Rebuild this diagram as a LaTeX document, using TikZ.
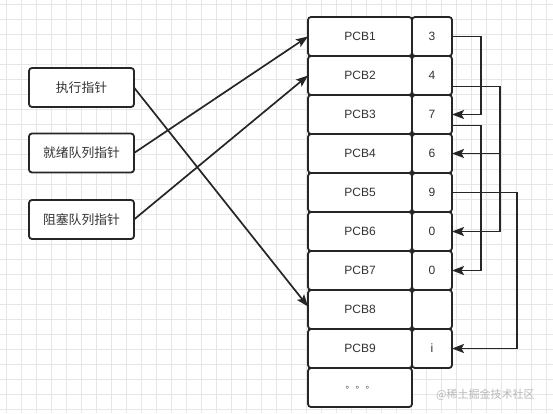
\documentclass[tikz,border=0pt]{standalone}
\usepackage{fontspec}
\setmainfont{Liberation Sans}
\newfontfamily\cjk{Noto Sans CJK SC}
\usetikzlibrary{arrows.meta,calc}
\definecolor{ink}{HTML}{262626}
\definecolor{txt}{HTML}{333333}
\definecolor{gridc}{HTML}{E6E6E6}
\definecolor{wm}{HTML}{B8B8B8}
\tikzset{
  gridline/.style={draw=gridc, line width=0.8pt},
  cell/.style={draw=ink, line width=1.8pt, rounded corners=3pt, fill=white,
    inner sep=0pt, outer sep=0pt, minimum height=39pt, text=txt,
    font=\fontsize{12}{14}\selectfont},
  pcb/.style={cell, minimum width=104pt},
  val/.style={cell, minimum width=40pt},
  ptr/.style={cell, minimum width=105pt, font=\cjk\fontsize{12.8}{14}\selectfont},
  conn/.style={draw=ink, line width=1.7pt, -{Stealth[length=12pt,width=9pt,inset=2.5pt]}},
}
\begin{document}
\begin{tikzpicture}[x=1pt,y=-1pt]
\useasboundingbox (0,0) rectangle (553,413);
\fill[white] (0,0) rectangle (553,413);
\foreach \x in {6,21,...,553} \draw[gridline] (\x,0) -- (\x,413);
\foreach \y in {4,19,...,413} \draw[gridline] (0,\y) -- (553,\y);

% left pointer boxes
\node[ptr] (run)   at (81.5,87.5)  {执行指针};
\node[ptr] (ready) at (81.5,153)   {就绪队列指针};
\node[ptr] (block) at (81.5,219.5) {阻塞队列指针};

% PCB table
\foreach \i/\v in {1/3,2/4,3/7,4/6,5/9,6/0,7/0,8/,9/i} {
  \node[pcb] (p\i) at (360,{17+39*(\i-1)+19.5}) {PCB\i};
  \node[val] (v\i) at (432,{17+39*(\i-1)+19.5}) {\v};
}
\node[pcb] (p10) at (360,387.5) {\cjk\fontsize{9}{10}\selectfont 。\hspace{1pt}。\hspace{1pt}。};

% pointer arrows
\draw[conn] (ready.east) -- (p1.west);
\draw[conn] (block.east) -- (p2.west);
\draw[conn] (run.east) -- ([yshift=3pt]p8.west);

% link arrows
\draw[conn] (v1.east) -- ++(29,0) |- (v3.east);
\draw[conn] ([yshift=-11pt]v2.east) -- ++(48,0) |- (v4.east);
\draw[conn] (v4.east) -- ++(48,0) |- (v6.east);
\draw[conn] ([yshift=-11pt]v3.east) -- ++(29,0) |- (v7.east);
\draw[conn] (v5.east) -- ++(65,0) |- (v9.east);

% watermark
\node[text=wm, font=\cjk\fontsize{11}{12}\selectfont, anchor=west, inner sep=0pt] (wmark) at (436,395) {@稀土掘金技术社区};
\end{tikzpicture}
\end{document}
